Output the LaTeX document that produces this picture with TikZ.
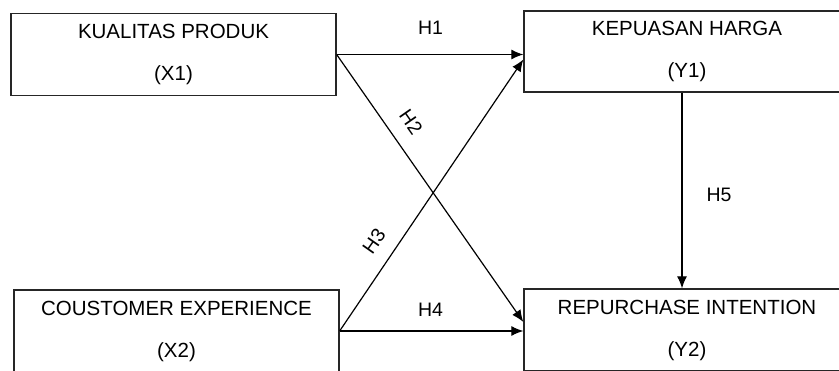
\documentclass[tikz,border=0pt]{standalone}
\usepackage{fontspec}
\setmainfont{Liberation Sans}
\usetikzlibrary{arrows.meta}
\begin{document}
\begin{tikzpicture}[x=1pt,y=1pt,
  box/.style={draw=black!85,line width=1.3pt,minimum width=325pt,minimum height=82pt,
    align=center,inner sep=0pt,font=\fontsize{20.5}{42}\selectfont},
  conn/.style={line width=1.2pt,-{Latex[length=12pt,width=10pt]}},
  lab/.style={font=\fontsize{19.5}{22}\selectfont,inner sep=0pt}]
\useasboundingbox (0,0) rectangle (839,370);
\clip (0,0) rectangle (839,370);
\node[box] (x1) at (173.5,315.5) {KUALITAS PRODUK\\(X1)};
\node[box,minimum width=326pt,minimum height=81pt] (y1) at (687,318.5) {KEPUASAN HARGA\\(Y1)};
\node[box] (x2) at (176.5,39) {COUSTOMER EXPERIENCE\\(X2)};
\node[box,minimum width=326pt] (y2) at (687,40) {REPURCHASE INTENTION\\(Y2)};
\draw[conn] (x1.east) -- (x1.east -| y1.west);
\draw[conn] (x1.east) -- ([yshift=8pt]y2.west);
\draw[conn] (x2.east) -- ([yshift=-8pt]y1.west);
\draw[conn] (x2.east) -- (x2.east -| y2.west);
\draw[conn] ([xshift=-5pt]y1.south) -- ([xshift=-5pt]y1.south |- y2.north);
\node[lab] (h1) at (430.5,342.5) {H1};
\node[lab,rotate=-55] (h2) at (411,248) {H2};
\node[lab,rotate=55] (h3) at (374,129) {H3};
\node[lab] (h4) at (430.5,60) {H4};
\node[lab] (h5) at (719,175.5) {H5};
\end{tikzpicture}
\end{document}
